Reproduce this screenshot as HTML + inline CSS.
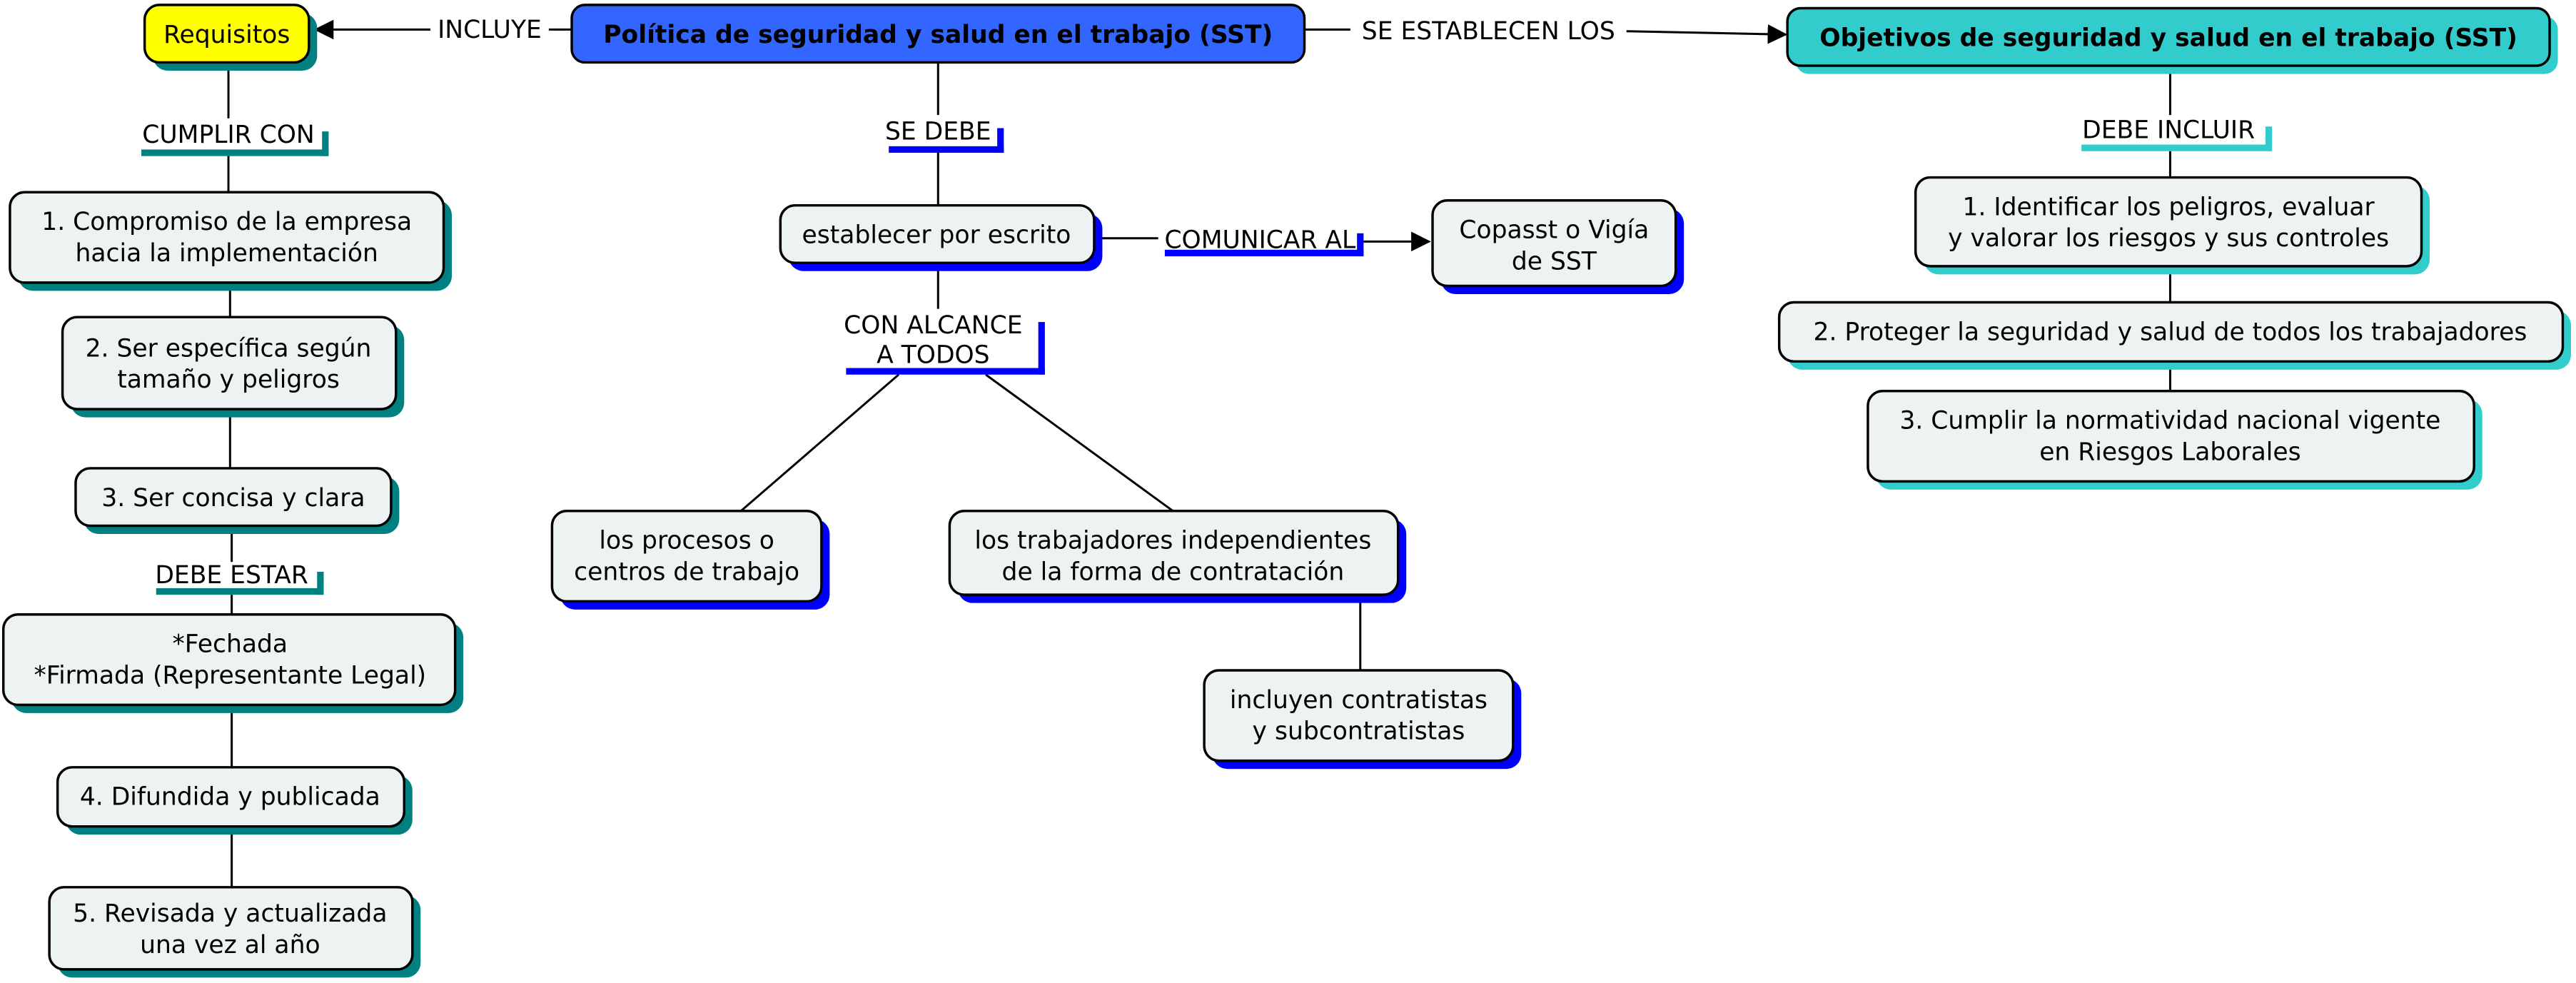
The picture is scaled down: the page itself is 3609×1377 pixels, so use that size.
<!DOCTYPE html>
<html><head><meta charset="utf-8"><style>
html,body{margin:0;padding:0;background:#fff;}
svg{display:block;}
text{font-family:"DejaVu Sans","Liberation Sans",sans-serif;font-size:15px;fill:#000;text-anchor:middle;}
.b{font-weight:bold;}
</style></head><body>
<svg width="3609" height="1377" viewBox="0 0 1568 598.3" xmlns="http://www.w3.org/2000/svg">
<defs>
<marker id="ar" markerWidth="12" markerHeight="12" refX="11" refY="6" orient="auto" markerUnits="userSpaceOnUse"><path d="M0,0 L12,6 L0,12 z" fill="#000"/></marker>
</defs>
<g stroke="#000" stroke-width="1.3" fill="none">
<line x1="348" y1="18" x2="334" y2="18"/><line x1="262" y1="18" x2="192" y2="18" marker-end="url(#ar)"/>
<line x1="794" y1="18" x2="822" y2="18"/><line x1="990" y1="19" x2="1087" y2="21" marker-end="url(#ar)"/>
<line x1="139" y1="38" x2="139" y2="72"/><line x1="139" y1="95" x2="139" y2="117"/>
<line x1="140" y1="172" x2="140" y2="193"/><line x1="140" y1="249" x2="140" y2="285"/>
<line x1="141" y1="320" x2="141" y2="342"/><line x1="141" y1="362" x2="141" y2="374"/>
<line x1="141" y1="429" x2="141" y2="467"/><line x1="141" y1="503" x2="141" y2="540"/>
<line x1="571" y1="38" x2="571" y2="70"/><line x1="571" y1="93" x2="571" y2="125"/>
<line x1="571" y1="160" x2="571" y2="188"/>
<line x1="666" y1="145" x2="705" y2="145"/><line x1="830" y1="147" x2="870" y2="147" marker-end="url(#ar)"/>
<line x1="547" y1="228" x2="451" y2="311"/><line x1="600" y1="228" x2="714" y2="311"/>
<line x1="828" y1="362" x2="828" y2="408"/>
<line x1="1321" y1="40" x2="1321" y2="70"/><line x1="1321" y1="92" x2="1321" y2="108"/>
<line x1="1321" y1="162" x2="1321" y2="184"/><line x1="1321" y1="220" x2="1321" y2="238"/>
</g>
<g>
<rect x="86" y="91" width="114" height="4" fill="#008080"/><rect x="196" y="80" width="4" height="15" fill="#008080"/>
<rect x="95" y="358" width="102" height="4" fill="#008080"/><rect x="193" y="348" width="4" height="14" fill="#008080"/>
<rect x="541" y="89" width="70" height="4" fill="#0000ff"/><rect x="607" y="78" width="4" height="15" fill="#0000ff"/>
<rect x="709" y="152" width="121" height="4" fill="#0000ff"/><rect x="826" y="142" width="4" height="14" fill="#0000ff"/>
<rect x="515" y="224" width="121" height="4" fill="#0000ff"/><rect x="632" y="196" width="4" height="32" fill="#0000ff"/>
<rect x="1267" y="88" width="116" height="4" fill="#33cccc"/><rect x="1379" y="77" width="4" height="15" fill="#33cccc"/>
</g>
<g>
<rect x="262" y="8" width="72" height="20" fill="#fff"/><text x="298" y="23">INCLUYE</text>
<rect x="822" y="8" width="168" height="20" fill="#fff"/><text x="906" y="24">SE ESTABLECEN LOS</text>
<text x="139" y="87">CUMPLIR CON</text>
<text x="141" y="355">DEBE ESTAR</text>
<text x="571" y="85">SE DEBE</text>
<text x="767" y="151">COMUNICAR AL</text>
<text x="568" y="203">CON ALCANCE</text><text x="568" y="221">A TODOS</text>
<text x="1320" y="84">DEBE INCLUIR</text>
</g>
<g stroke="#000" stroke-width="1.5">
<rect x="93" y="8" width="100" height="35" rx="9" fill="#008080" stroke="none"/>
<rect x="88" y="3" width="100" height="35" rx="9" fill="#ffff00"/>
<rect x="348" y="3" width="446" height="35" rx="8" fill="#3366ff"/>
<rect x="1093" y="10" width="464" height="35" rx="8" fill="#33cccc" stroke="none"/>
<rect x="1088" y="5" width="464" height="35" rx="8" fill="#33cccc"/>

<rect x="11" y="122" width="264" height="55" rx="9" fill="#008080" stroke="none"/>
<rect x="6" y="117" width="264" height="55" rx="9" fill="#edf3f3"/>
<rect x="43" y="198" width="203" height="56" rx="9" fill="#008080" stroke="none"/>
<rect x="38" y="193" width="203" height="56" rx="9" fill="#edf3f3"/>
<rect x="51" y="290" width="192" height="35" rx="9" fill="#008080" stroke="none"/>
<rect x="46" y="285" width="192" height="35" rx="9" fill="#edf3f3"/>
<rect x="7" y="379" width="275" height="55" rx="9" fill="#008080" stroke="none"/>
<rect x="2" y="374" width="275" height="55" rx="9" fill="#edf3f3"/>
<rect x="40" y="472" width="211" height="36" rx="9" fill="#008080" stroke="none"/>
<rect x="35" y="467" width="211" height="36" rx="9" fill="#edf3f3"/>
<rect x="35" y="545" width="221" height="50" rx="9" fill="#008080" stroke="none"/>
<rect x="30" y="540" width="221" height="50" rx="9" fill="#edf3f3"/>

<rect x="480" y="130" width="191" height="35" rx="9" fill="#0000ff" stroke="none"/>
<rect x="475" y="125" width="191" height="35" rx="9" fill="#edf3f3"/>
<rect x="877" y="127" width="148" height="52" rx="9" fill="#0000ff" stroke="none"/>
<rect x="872" y="122" width="148" height="52" rx="9" fill="#edf3f3"/>
<rect x="341" y="316" width="164" height="55" rx="9" fill="#0000ff" stroke="none"/>
<rect x="336" y="311" width="164" height="55" rx="9" fill="#edf3f3"/>
<rect x="583" y="316" width="273" height="51" rx="9" fill="#0000ff" stroke="none"/>
<rect x="578" y="311" width="273" height="51" rx="9" fill="#edf3f3"/>
<rect x="738" y="413" width="188" height="55" rx="9" fill="#0000ff" stroke="none"/>
<rect x="733" y="408" width="188" height="55" rx="9" fill="#edf3f3"/>

<rect x="1171" y="113" width="308" height="54" rx="9" fill="#33cccc" stroke="none"/>
<rect x="1166" y="108" width="308" height="54" rx="9" fill="#edf3f3"/>
<rect x="1088" y="189" width="477" height="36" rx="9" fill="#33cccc" stroke="none"/>
<rect x="1083" y="184" width="477" height="36" rx="9" fill="#edf3f3"/>
<rect x="1142" y="243" width="369" height="55" rx="9" fill="#33cccc" stroke="none"/>
<rect x="1137" y="238" width="369" height="55" rx="9" fill="#edf3f3"/>
</g>
<g>
<text x="138" y="26">Requisitos</text>
<text x="571" y="26" class="b">Política de seguridad y salud en el trabajo (SST)</text>
<text x="1320" y="28" class="b">Objetivos de seguridad y salud en el trabajo (SST)</text>
<text x="138" y="140">1. Compromiso de la empresa</text><text x="138" y="159">hacia la implementación</text>
<text x="139" y="217">2. Ser específica según</text><text x="139" y="236">tamaño y peligros</text>
<text x="142" y="308">3. Ser concisa y clara</text>
<text x="140" y="397">*Fechada</text><text x="140" y="416">*Firmada (Representante Legal)</text>
<text x="140" y="490">4. Difundida y publicada</text>
<text x="140" y="561">5. Revisada y actualizada</text><text x="140" y="580">una vez al año</text>
<text x="570" y="148">establecer por escrito</text>
<text x="946" y="145">Copasst o Vigía</text><text x="946" y="164">de SST</text>
<text x="418" y="334">los procesos o</text><text x="418" y="353">centros de trabajo</text>
<text x="714" y="334">los trabajadores independientes</text><text x="714" y="353">de la forma de contratación</text>
<text x="827" y="431">incluyen contratistas</text><text x="827" y="450">y subcontratistas</text>
<text x="1320" y="131">1. Identificar los peligros, evaluar</text><text x="1320" y="150">y valorar los riesgos y sus controles</text>
<text x="1321" y="207">2. Proteger la seguridad y salud de todos los trabajadores</text>
<text x="1321" y="261">3. Cumplir la normatividad nacional vigente</text><text x="1321" y="280">en Riesgos Laborales</text>
</g>
</svg>
</body></html>
